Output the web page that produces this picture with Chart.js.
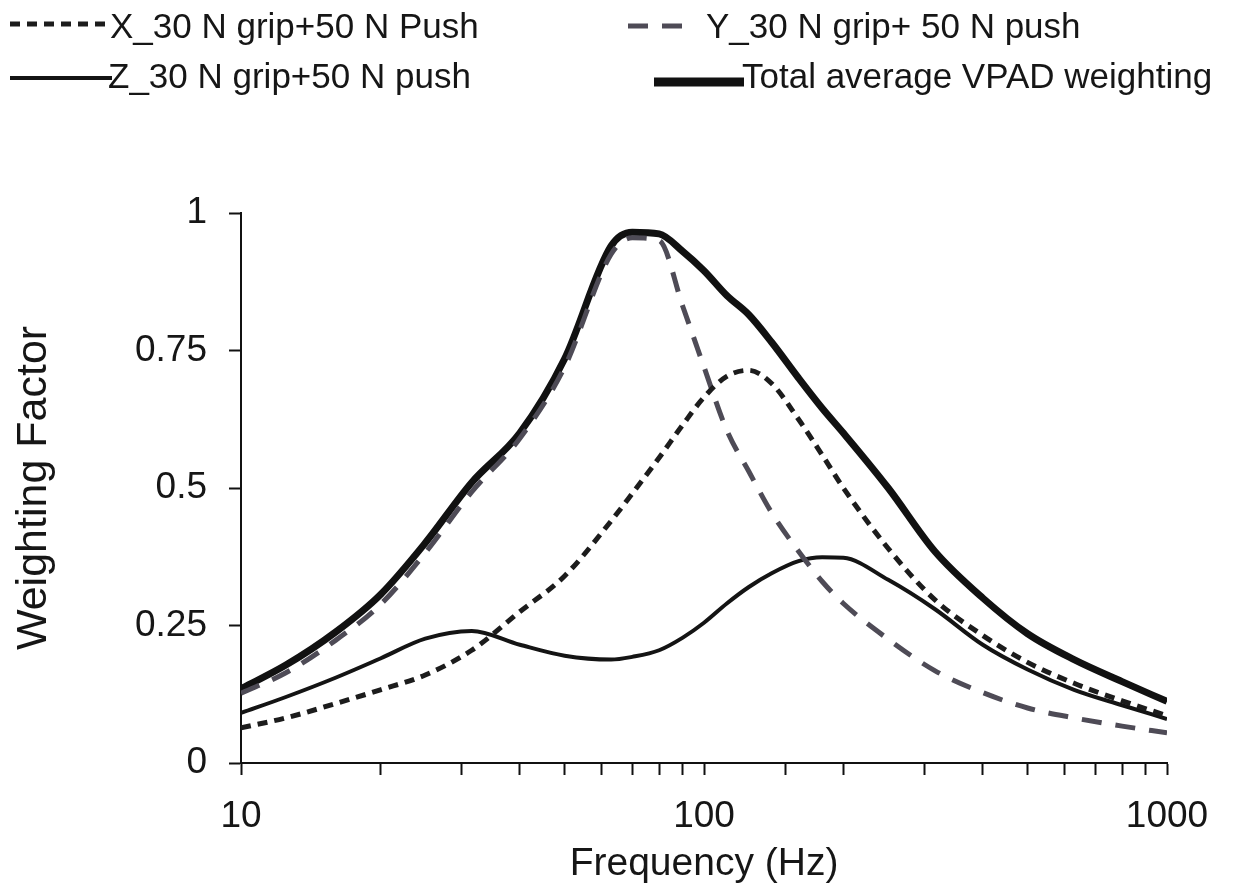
<!DOCTYPE html>
<html>
<head>
<meta charset="utf-8">
<script src="https://cdn.jsdelivr.net/npm/chart.js@4"></script>
<style>
  body { margin: 0; background: #fff; }
  #wrap { position: relative; width: 1233px; height: 894px; }
  #chart { position: absolute; left: 0; top: 0; }
  .leg { position: absolute; font-family: "Liberation Sans", Arial, sans-serif; font-size: 35px; line-height: 35px; color: #161616; white-space: nowrap; }
  .sw { position: absolute; }
</style>
</head>
<body>
<div id="wrap">
  <canvas id="chart" width="1233" height="894"></canvas>
  <svg class="sw" style="left:8px;top:12px" width="104" height="24"><line x1="2" y1="12" x2="102" y2="12" stroke="#1c1c1c" stroke-width="5" stroke-dasharray="10 7"/></svg>
  <div class="leg" style="left:110px;top:8px">X_30 N grip+50 N Push</div>
  <svg class="sw" style="left:624px;top:14px" width="70" height="24"><line x1="4" y1="12" x2="66" y2="12" stroke="#4e4b56" stroke-width="5" stroke-dasharray="20 14"/></svg>
  <div class="leg" style="left:706px;top:8px">Y_30 N grip+ 50 N push</div>
  <svg class="sw" style="left:8px;top:66px" width="104" height="24"><line x1="2" y1="12" x2="104" y2="12" stroke="#141414" stroke-width="4"/></svg>
  <div class="leg" style="left:108px;top:58px">Z_30 N grip+50 N push</div>
  <svg class="sw" style="left:652px;top:70px" width="92" height="24"><line x1="2" y1="12" x2="92" y2="12" stroke="#111" stroke-width="9"/></svg>
  <div class="leg" style="left:742px;top:58px">Total average VPAD weighting</div>
</div>
<script>
// frequency (Hz) where the curves were read
var freqHz = [10, 12.5, 16, 20, 25, 31.5, 40, 50, 63, 70, 80, 90, 100, 112, 125, 140, 160, 180, 200, 250, 315, 400, 500, 630, 800, 1000];

var xGrip = [0.064, 0.082, 0.108, 0.133, 0.16, 0.205, 0.275, 0.34, 0.44, 0.49, 0.555, 0.615, 0.665, 0.703, 0.714, 0.69, 0.625, 0.56, 0.50, 0.39, 0.297, 0.232, 0.183, 0.145, 0.113, 0.086];
var yGrip = [0.127, 0.164, 0.223, 0.288, 0.382, 0.493, 0.59, 0.72, 0.925, 0.955, 0.95, 0.83, 0.72, 0.605, 0.53, 0.455, 0.385, 0.33, 0.29, 0.225, 0.168, 0.128, 0.10, 0.082, 0.067, 0.055];
var zGrip = [0.091, 0.12, 0.155, 0.19, 0.226, 0.24, 0.215, 0.195, 0.188, 0.193, 0.205, 0.228, 0.255, 0.29, 0.32, 0.345, 0.367, 0.374, 0.373, 0.333, 0.28, 0.215, 0.17, 0.133, 0.105, 0.08];
var totalAvg = [0.135, 0.178, 0.238, 0.306, 0.40, 0.51, 0.60, 0.735, 0.94, 0.965, 0.962, 0.93, 0.895, 0.85, 0.815, 0.765, 0.70, 0.645, 0.60, 0.50, 0.385, 0.30, 0.235, 0.188, 0.148, 0.112];

var yTicks = [0, 0.25, 0.5, 0.75, 1];
var xLabels = [10, 100, 1000];

function pts(vals) {
    return freqHz.map(function (f, i) { return { x: f, y: vals[i] }; });
}

var font = "'Liberation Sans', Arial, sans-serif";

new Chart(document.getElementById("chart").getContext("2d"), {
    type: "line",
    data: {
        datasets: [
            { label: "X_30 N grip+50 N Push", data: pts(xGrip), borderColor: "#1c1c1c", borderWidth: 5, borderDash: [10, 7] },
            { label: "Y_30 N grip+ 50 N push", data: pts(yGrip), borderColor: "#4e4b56", borderWidth: 5, borderDash: [20, 14] },
            { label: "Z_30 N grip+50 N push", data: pts(zGrip), borderColor: "#141414", borderWidth: 4 },
            { label: "Total average VPAD weighting", data: pts(totalAvg), borderColor: "#111", borderWidth: 7 }
        ]
    },
    options: {
        responsive: false,
        animation: false,
        devicePixelRatio: 1,
        elements: { point: { radius: 0 }, line: { cubicInterpolationMode: "monotone", fill: false } },
        layout: { padding: { top: 213, right: 66, left: 0, bottom: 0 } },
        plugins: { legend: { display: false }, tooltip: { enabled: false } },
        scales: {
            x: {
                type: "logarithmic",
                min: 10,
                max: 1000,
                afterFit: function (s) { s.height = 131; },
                grid: { drawOnChartArea: false, tickLength: 12, tickColor: "#111", tickWidth: 2 },
                border: { color: "#111", width: 2 },
                ticks: {
                    autoSkip: false,
                    maxRotation: 0,
                    padding: 20,
                    color: "#161616",
                    font: { family: font, size: 37 },
                    callback: function (v) { return xLabels.indexOf(v) >= 0 ? String(v) : ""; }
                },
                title: { display: true, text: "Frequency (Hz)", color: "#161616", font: { family: font, size: 39 }, padding: { top: 0, bottom: 6 } }
            },
            y: {
                min: 0,
                max: 1,
                afterFit: function (s) { s.width = 241; },
                afterBuildTicks: function (s) { s.ticks = yTicks.map(function (v) { return { value: v }; }); },
                grid: { drawOnChartArea: false, tickLength: 12, tickColor: "#111", tickWidth: 2 },
                border: { color: "#111", width: 2 },
                ticks: {
                    padding: 22,
                    color: "#161616",
                    font: { family: font, size: 37 },
                    callback: function (v) { return String(v); }
                },
                title: { display: true, text: "Weighting Factor", color: "#161616", font: { family: font, size: 43 }, padding: { top: 8, bottom: 0 } }
            }
        }
    }
});
</script>
</body>
</html>
